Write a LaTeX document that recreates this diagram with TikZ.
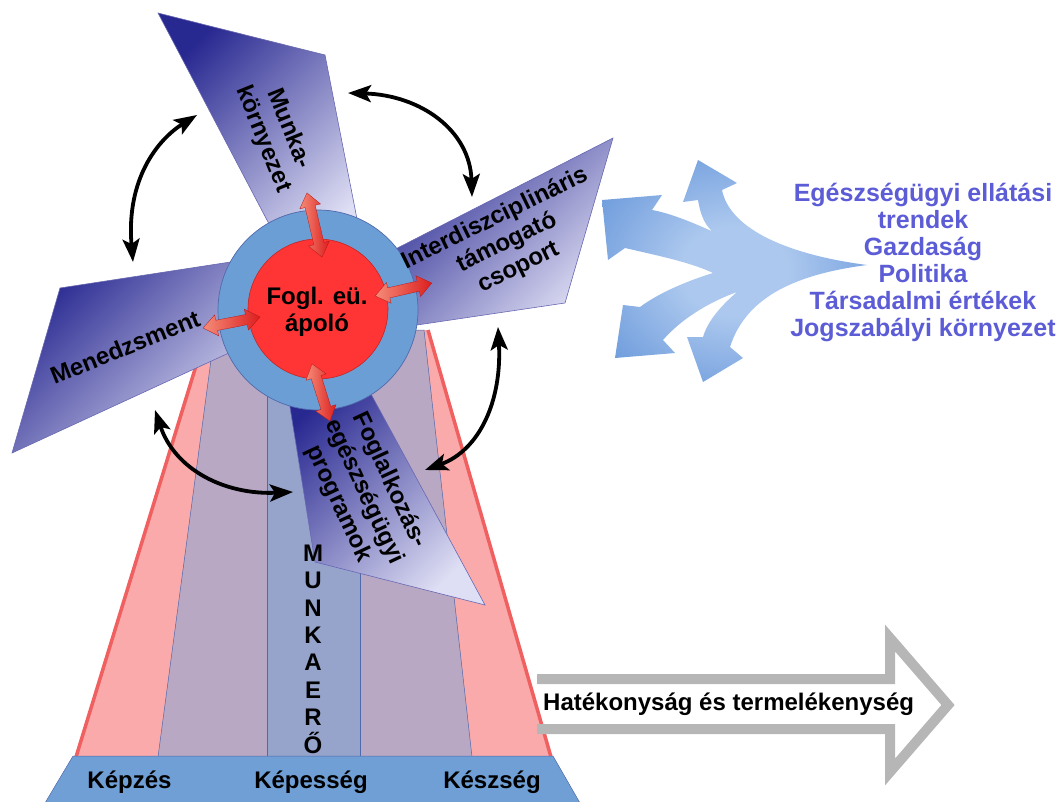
\documentclass[tikz,border=0pt]{standalone}
\usepackage{fontspec}
\setmainfont{Liberation Sans}
\usetikzlibrary{arrows.meta,shapes.arrows}

\definecolor{pinkfill}{RGB}{250,170,170}
\definecolor{pinkedge}{RGB}{240,96,96}
\definecolor{lavender}{RGB}{185,168,196}
\definecolor{colfill}{RGB}{150,164,204}
\definecolor{edgeblue}{RGB}{80,105,170}
\definecolor{basefill}{RGB}{111,159,213}
\definecolor{ringfill}{RGB}{108,158,214}
\definecolor{hubred}{RGB}{255,52,52}
\definecolor{hubedge}{RGB}{190,40,40}
\definecolor{bladedark}{RGB}{40,40,145}
\definecolor{bladelight}{RGB}{222,222,244}
\definecolor{flowlight}{RGB}{172,200,238}
\definecolor{flowdark}{RGB}{88,140,214}
\definecolor{listblue}{RGB}{92,92,214}
\definecolor{arrowgrey}{RGB}{182,182,182}
\definecolor{redlight}{RGB}{245,140,120}
\definecolor{reddark}{RGB}{220,30,30}

\pgfdeclareradialshading{flowshade}{\pgfpoint{0bp}{0bp}}{color(0bp)=(flowlight); color(10bp)=(flowlight); color(38bp)=(flowdark); color(50bp)=(flowdark)}

\begin{document}
\begin{tikzpicture}[x=1pt,y=-1pt,
  lbl/.style={font=\fontsize{24}{27}\selectfont\bfseries, align=center, inner sep=0pt},
  blade/.style={draw=bladedark!70, line width=0.6pt, top color=bladedark, bottom color=bladelight, shading angle=45},
  redarr/.style={double arrow, double arrow head extend=5.5pt, double arrow tip angle=75, inner sep=0pt, sloped,
    draw=reddark!80!black, line width=0.3pt, left color=redlight, right color=reddark},
  barrow/.style={line width=3.8pt, {Stealth[length=23pt,width=17pt,inset=5pt]}-{Stealth[length=23pt,width=17pt,inset=5pt]}},
  thinedge/.style={draw=edgeblue, line width=0.5pt}
]
\useasboundingbox (0,0) rectangle (1059,802);

% tower body
\path[fill=pinkfill] (207,330) -- (428,330) -- (551,757) -- (76,757) -- cycle;
\draw[pinkedge, line width=3.5pt] (207,330) -- (76,757);
\draw[pinkedge, line width=3.5pt] (428,330) -- (551,757);
\draw[thinedge, fill=lavender] (215,330) -- (424,330) -- (472,757) -- (158,757) -- cycle;
\draw[thinedge, fill=colfill] (267,330) rectangle (360,757);

% base bar
\draw[thinedge, fill=basefill] (73,756) -- (553,756) -- (580,803) -- (45,803) -- cycle;

% blades
\draw[blade] (158,13) -- (325,55) -- (365,260) -- (288,260) -- cycle;
\draw[blade] (370,262) -- (613,138) -- (565,303) -- (370,332) -- cycle;
\draw[blade] (60,288) -- (270,256) -- (270,334) -- (12,453) -- cycle;
\draw[blade] (284,370) -- (358,370) -- (485,605) -- (315,562) -- cycle;

% hub
\node[circle, fill=ringfill, draw=edgeblue, line width=0.7pt, minimum size=200pt, inner sep=0pt] (ring) at (318,310) {};
\node[circle, fill=hubred, draw=hubedge, line width=0.6pt, minimum size=140pt, inner sep=0pt] (hub) at (318,309) {};

% red links hub <-> blades
\coordinate (ru1) at (307,193); \coordinate (ru2) at (322,257);
\coordinate (rl1) at (203,328); \coordinate (rl2) at (260,317);
\coordinate (rr1) at (375,296); \coordinate (rr2) at (432,283);
\coordinate (rd1) at (312,364); \coordinate (rd2) at (330,421);
\path (ru2) -- node[redarr, minimum height=66pt] {\rule{0pt}{10pt}} (ru1);
\path (rl1) -- node[redarr, minimum height=58pt] {\rule{0pt}{10pt}} (rl2);
\path (rr1) -- node[redarr, minimum height=58pt] {\rule{0pt}{10pt}} (rr2);
\path (rd1) -- node[redarr, minimum height=60pt] {\rule{0pt}{10pt}} (rd2);

% curved links between blades
\coordinate (b1a) at (133,262); \coordinate (b1b) at (197,115);
\coordinate (b2a) at (348,93);  \coordinate (b2b) at (472,197);
\coordinate (b3a) at (155,410); \coordinate (b3b) at (293,492);
\coordinate (b4a) at (498,327); \coordinate (b4b) at (425,470);
\draw[barrow] (b1a) .. controls (126,180) and (157,140) .. (b1b);
\draw[barrow] (b2a) .. controls (420,95) and (470,130) .. (b2b);
\draw[barrow] (b3a) .. controls (175,470) and (225,495) .. (b3b);
\draw[barrow] (b4a) .. controls (502,400) and (480,450) .. (b4b);

% branching influence arrows (one outline, four heads)
\shade[shading=flowshade]
  (867,265) .. controls (790,255) and (730,230) .. (722,190)
  -- (737,183) -- (698,160) -- (683,202) -- (698,200)
  .. controls (702,225) and (712,235) .. (727,238)
  .. controls (705,228) and (675,214) .. (652,210)
  -- (662,195) -- (602,200) -- (608,260) -- (625,248)
  .. controls (655,255) and (690,262) .. (713,273)
  .. controls (690,280) and (660,292) .. (640,307)
  -- (623,305) -- (615,358) -- (675,353) -- (663,340)
  .. controls (685,315) and (715,300) .. (737,292)
  .. controls (722,305) and (708,320) .. (703,337)
  -- (687,337) -- (703,382) -- (743,358) -- (730,347)
  .. controls (745,300) and (790,275) .. (867,265) -- cycle;

% outcome arrow
\draw[arrowgrey, line width=10pt, line join=miter]
  (537,679) -- (890,679) -- (890,638) -- (948,705) -- (890,772) -- (890,729) -- (537,729);

% labels
\node[lbl] (hubtext) at (317,312) {Fogl. eü.\\ápoló};
\node[lbl, rotate=-68, font=\fontsize{24}{28}\selectfont\bfseries] (tTop) at (276,134) {Munka-\\környezet};
\node[lbl, rotate=26] (tRight) at (507,243) {Interdiszciplináris\\támogató\\csoport};
\node[lbl, rotate=22] (tLeft) at (125,347) {Menedzsment};
\node[lbl, rotate=-65, font=\fontsize{24}{28}\selectfont\bfseries] (tBottom) at (364,492) {Foglalkozás-\\egészségügyi\\programok};
\node[lbl, font=\fontsize{24}{27.4}\selectfont\bfseries] (tWork) at (313,649) {M\\U\\N\\K\\A\\E\\R\\Ő};
\node[lbl, anchor=base] (tK1) at (129.5,788) {Képzés};
\node[lbl, anchor=base] (tK2) at (311,788) {Képesség};
\node[lbl, anchor=base] (tK3) at (492,788) {Készség};
\node[lbl, anchor=base west] (tOut) at (543,710) {Hatékonyság és termelékenység};
\node[lbl, text=listblue, font=\fontsize{25}{27}\selectfont\bfseries] (tList) at (923,262) {Egészségügyi ellátási\\trendek\\Gazdaság\\Politika\\Társadalmi értékek\\Jogszabályi környezet};
\end{tikzpicture}
\end{document}
